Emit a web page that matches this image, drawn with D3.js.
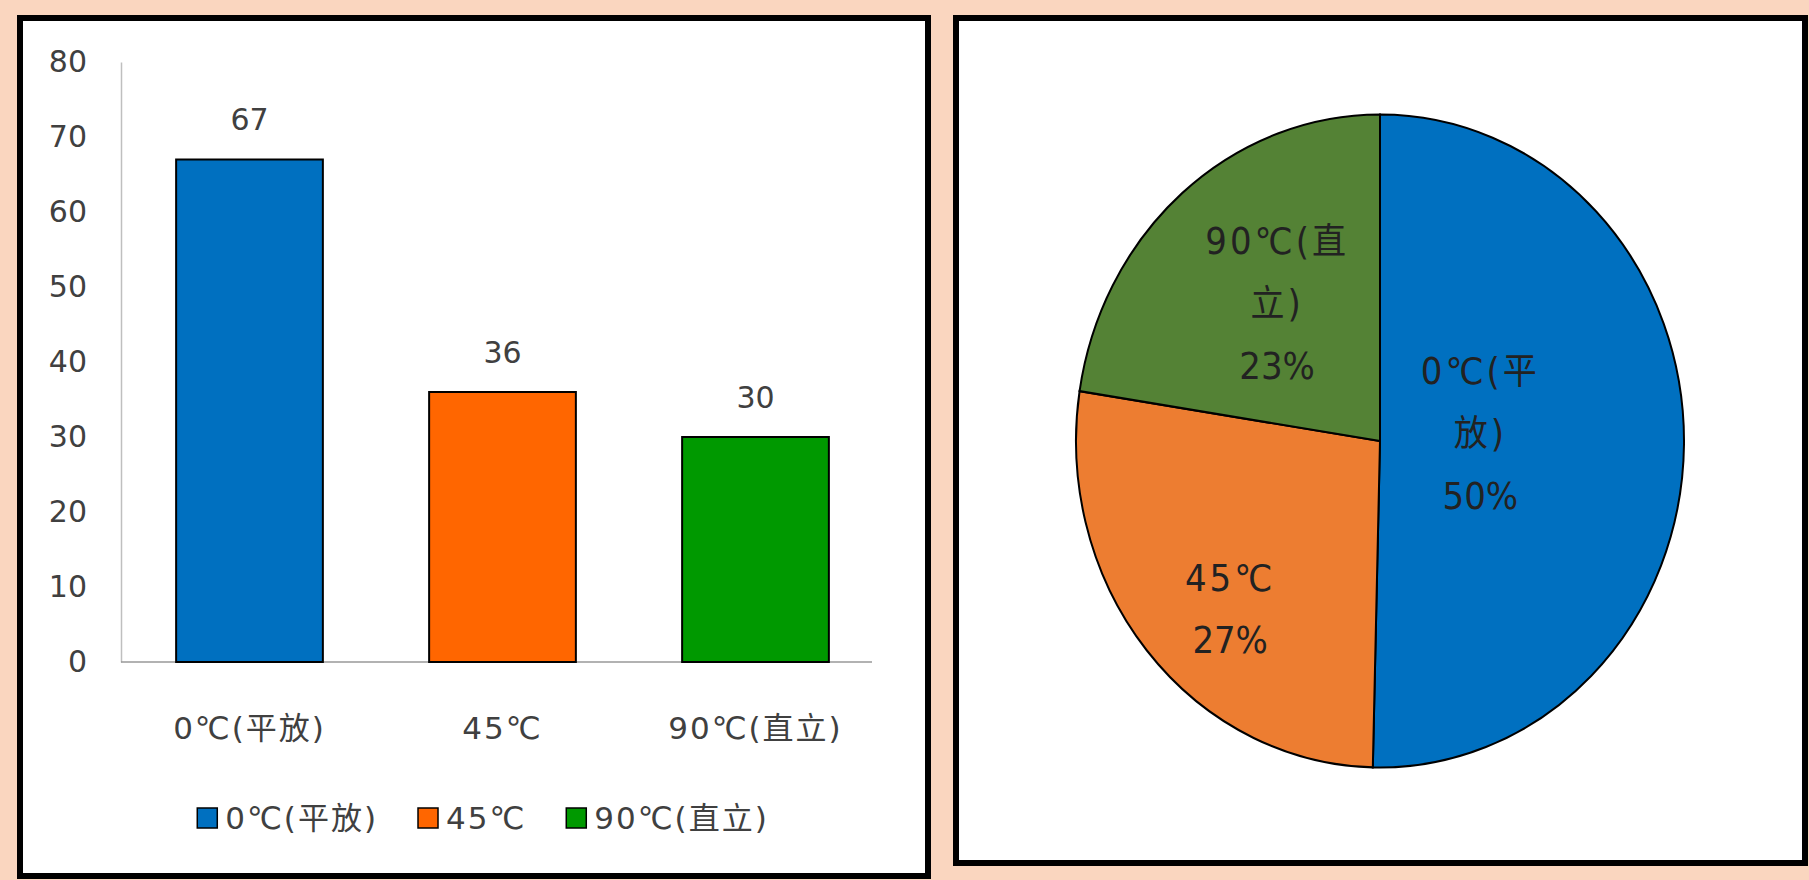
<!DOCTYPE html>
<html>
<head>
<meta charset="utf-8">
<script src="https://cdn.jsdelivr.net/npm/d3@7"></script>
<style>
  body { margin: 0; background: #fad6bf; }
  svg text { font-family: "DejaVu Sans", "Noto Sans CJK TC", sans-serif; }
</style>
</head>
<body>
<script>
// data
var categories = ["0℃(平放)", "45℃", "90℃(直立)"];
var values = [67, 36, 30];
var yTicks = [0, 10, 20, 30, 40, 50, 60, 70, 80];
var barColors = ["#0070c0", "#ff6600", "#009900"];
var pieColors = ["#0070c0", "#ed7d31", "#548235"];

var W = 1809, H = 880;

var svg = d3.select("body").append("svg")
    .attr("width", W)
    .attr("height", H);

svg.append("rect").attr("width", W).attr("height", H).attr("fill", "#fad6bf");

// panels
svg.append("rect")
    .attr("x", 20).attr("y", 18).attr("width", 908).attr("height", 858)
    .attr("fill", "#fff").attr("stroke", "#000").attr("stroke-width", 6);
svg.append("rect")
    .attr("x", 956).attr("y", 18).attr("width", 849).attr("height", 845)
    .attr("fill", "#fff").attr("stroke", "#000").attr("stroke-width", 6);

// ---- bar chart ----
var x = d3.scaleBand().domain(categories).range([123, 882]).paddingInner(0.42).paddingOuter(0.21);
var y = d3.scaleLinear().domain([0, 80]).range([662, 62]);

var yAxis = svg.append("g")
    .attr("transform", "translate(121,0)")
    .call(d3.axisLeft(y).tickValues(yTicks).tickSize(0).tickPadding(34));
yAxis.select(".domain").attr("stroke", "#bfbfbf").attr("stroke-width", 1.5);
yAxis.selectAll("text")
    .attr("fill", "#404040")
    .style("font-size", "30px");

svg.append("line")
    .attr("x1", 121).attr("x2", 872)
    .attr("y1", y(0)).attr("y2", y(0))
    .attr("stroke", "#999").attr("stroke-width", 1.5);

svg.selectAll(".bar")
    .data(values)
  .enter().append("rect")
    .attr("class", "bar")
    .attr("x", function(d, i) { return x(categories[i]); })
    .attr("y", function(d) { return y(d); })
    .attr("width", x.bandwidth())
    .attr("height", function(d) { return y(0) - y(d); })
    .attr("fill", function(d, i) { return barColors[i]; })
    .attr("stroke", "#000")
    .attr("stroke-width", 2);

svg.selectAll(".val")
    .data(values)
  .enter().append("text")
    .attr("class", "val")
    .attr("x", function(d, i) { return x(categories[i]) + x.bandwidth() / 2; })
    .attr("y", function(d) { return y(d) - 40; })
    .attr("dy", "0.35em")
    .attr("text-anchor", "middle")
    .attr("fill", "#404040")
    .style("font-size", "30px")
    .text(function(d) { return d; });

svg.selectAll(".cat")
    .data(categories)
  .enter().append("text")
    .attr("class", "cat")
    .attr("x", function(d) { return x(d) + x.bandwidth() / 2; })
    .attr("y", y(0) + 66)
    .attr("dy", "0.35em")
    .attr("text-anchor", "middle")
    .attr("fill", "#404040")
    .style("font-size", "31px")
    .style("letter-spacing", "2px")
    .text(function(d) { return d; });

// legend
var legend = svg.append("g").attr("transform", "translate(0,818)");
var items = legend.selectAll(".legend")
    .data(categories)
  .enter().append("g")
    .attr("class", "legend");
items.append("rect")
    .attr("y", -10).attr("width", 20).attr("height", 20)
    .attr("fill", function(d, i) { return barColors[i]; })
    .attr("stroke", "#000").attr("stroke-width", 1.5);
items.append("text")
    .attr("x", 28)
    .attr("dy", "0.35em")
    .attr("fill", "#404040")
    .style("font-size", "31px")
    .style("letter-spacing", "2px")
    .text(function(d) { return d; });
var lx = 0;
items.each(function() {
    var g = d3.select(this);
    g.attr("transform", "translate(" + lx + ",0)");
    lx += 28 + g.select("text").node().getComputedTextLength() + 40;
});
lx -= 40;
legend.attr("transform", "translate(" + (483 - lx / 2) + ",818)");

// ---- pie chart ----
var r = 304, stretch = 1.074;
var pie = d3.pie().sort(null)(values);
var total = d3.sum(values);
var arc = d3.arc().innerRadius(0).outerRadius(r);
var labelRadius = [0.33, 0.72, 0.52];
var labelNudge = [[0, -8], [18, 16], [0, -8]];

var pg = svg.append("g")
    .attr("transform", "translate(1380,441) scale(1," + stretch + ")");

pg.selectAll(".slice")
    .data(pie)
  .enter().append("path")
    .attr("class", "slice")
    .attr("d", arc)
    .attr("fill", function(d, i) { return pieColors[i]; })
    .attr("stroke", "#000")
    .attr("stroke-width", 2);

pg.selectAll(".plabel")
    .data(pie)
  .enter().append("text")
    .attr("class", "plabel")
    .attr("text-anchor", "middle")
    .attr("fill", "#222")
    .style("font-size", "34px")
    .each(function(d, i) {
        var name = categories[i];
        var lines = name.length > 4 ? [name.slice(0, -2), name.slice(-2)] : [name];
        lines.push(Math.round(d.value / total * 100) + "%");
        var c = d3.arc().innerRadius(r * labelRadius[i]).outerRadius(r * labelRadius[i]).centroid(d);
        c[0] += labelNudge[i][0];
        c[1] += labelNudge[i][1];
        var step = 58;
        var t = d3.select(this);
        lines.forEach(function(s, k) {
            t.append("tspan")
                .attr("x", c[0])
                .attr("y", c[1] + (k - (lines.length - 1) / 2) * step)
                .attr("dy", "0.35em")
                .style("letter-spacing", k < lines.length - 1 ? "3px" : "0px")
                .text(s);
        });
    });
</script>
</body>
</html>
